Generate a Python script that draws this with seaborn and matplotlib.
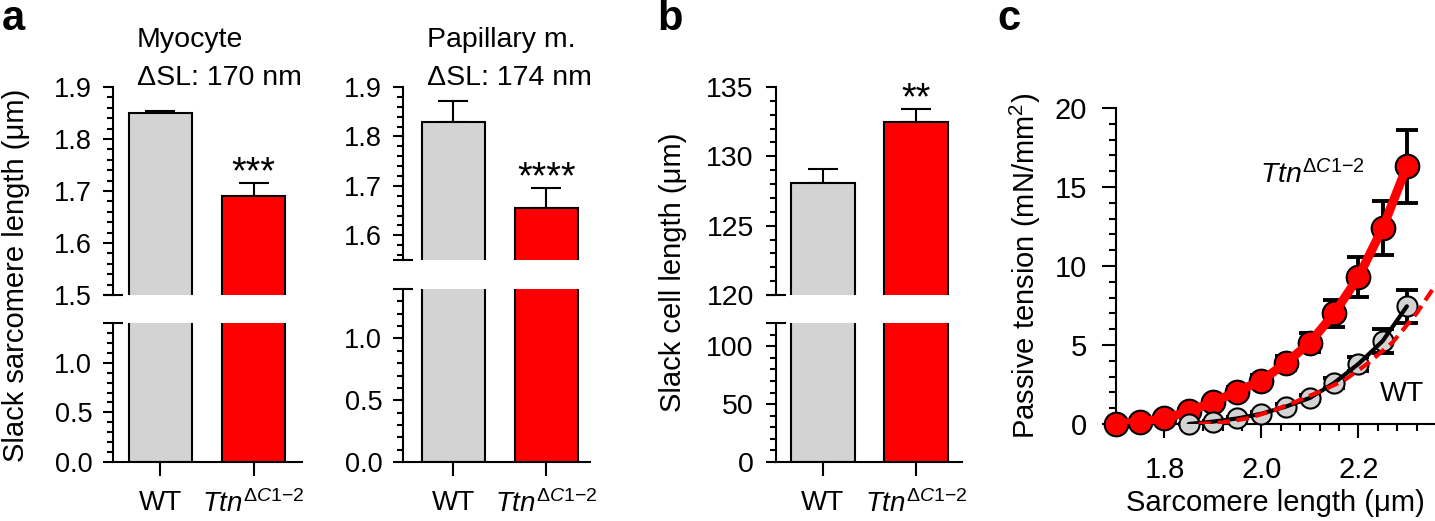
import numpy as np
import pandas as pd
import matplotlib
matplotlib.use("Agg")
import matplotlib.pyplot as plt
from matplotlib.ticker import MultipleLocator, FixedLocator
import seaborn as sns

# ---------------- data ----------------
groups = ["WT", "Ttn"]
group_labels = ["WT", r"$\mathit{Ttn}^{\mathit{\Delta C1{-}2}}$"]
bar_colors = ["#d3d3d3", "#ff0000"]

myocyte_sl = [1.85, 1.69]
myocyte_sem = [0.004, 0.025]
myocyte_sig = "***"

papillary_sl = [1.83, 1.655]
papillary_sem = [0.042, 0.040]
papillary_sig = "****"

cell_len = [128.1, 132.5]
cell_len_sem = [1.0, 0.9]
cell_sig = "**"

ttn_x = [1.70, 1.75, 1.80, 1.85, 1.90, 1.95, 2.00, 2.05, 2.10, 2.15, 2.20, 2.25, 2.30]
ttn_pt = [0.0, 0.1, 0.35, 0.8, 1.4, 2.05, 2.75, 3.85, 5.15, 7.0, 9.3, 12.4, 16.3]
ttn_pt_sem = [0.05, 0.05, 0.1, 0.15, 0.2, 0.3, 0.35, 0.45, 0.6, 0.85, 1.25, 1.7, 2.3]

wt_x = [1.85, 1.90, 1.95, 2.00, 2.05, 2.10, 2.15, 2.20, 2.25, 2.30]
wt_pt = [0.0, 0.15, 0.35, 0.65, 1.1, 1.65, 2.6, 3.8, 5.25, 7.45]
wt_pt_sem = [0.02, 0.05, 0.08, 0.1, 0.15, 0.2, 0.3, 0.45, 0.75, 1.05]

delta_sl = 0.17  # um shift of Ttn curve (dashed)

# ---------------- style ----------------
sns.set_theme(style="ticks")
plt.rcParams["font.family"] = ["Liberation Sans", "DejaVu Sans"]
plt.rcParams["mathtext.fontset"] = "custom"
plt.rcParams["mathtext.rm"] = "Liberation Sans"
plt.rcParams["mathtext.it"] = "Liberation Sans:italic"
plt.rcParams["mathtext.bf"] = "Liberation Sans:bold"
for k in ["text.color", "axes.labelcolor", "xtick.color", "ytick.color", "axes.edgecolor"]:
    plt.rcParams[k] = "black"

W, H = 1435, 521
fig = plt.figure(figsize=(W / 100, H / 100), dpi=100)

LW = 1.5
LABEL_FS = 21


def px_axes(l, r, t, b):
    return fig.add_axes([l / W, 1 - b / H, (r - l) / W, (b - t) / H])


def style_axis(ax, ypad, fs):
    ax.tick_params(axis="y", which="major", length=7, width=LW, labelsize=fs, pad=ypad, direction="out")
    ax.tick_params(axis="y", which="minor", length=4.5, width=LW, direction="out")
    ax.tick_params(axis="x", which="major", length=7, width=LW, labelsize=fs, pad=9, direction="out")
    for s in ["left", "bottom", "top", "right"]:
        ax.spines[s].set_linewidth(LW)
    ax.spines["right"].set_visible(False)


def cap(ax, yfrac, width_px):
    # small break-cap line at the end of a segmented axis
    f = 10.0 / width_px
    ax.plot([-f, f], [yfrac, yfrac], transform=ax.transAxes, color="black",
            lw=LW, clip_on=False, solid_capstyle="butt")


def broken_bar(lrx, up_tb, lo_tb, xlim, vals, sems, up_lim, lo_lim,
               up_major, up_minor, lo_major, lo_minor, fmt, sig, ypad, fs):
    l, r = lrx
    ax_up = px_axes(l, r, up_tb[0], up_tb[1])
    ax_lo = px_axes(l, r, lo_tb[0], lo_tb[1])
    df = pd.DataFrame({"g": groups, "v": vals})
    for ax in (ax_up, ax_lo):
        sns.barplot(data=df, x="g", y="v", hue="g", palette=bar_colors, width=0.68,
                    saturation=1, edgecolor="black", linewidth=LW, errorbar=None,
                    legend=False, ax=ax, zorder=2)
        ax.set_xlim(*xlim)
        ax.set_xlabel("")
        ax.set_ylabel("")
        style_axis(ax, ypad, fs)
    ax_up.errorbar(x=[0, 1], y=vals, yerr=[[0, 0], sems], fmt="none", ecolor="black",
                   elinewidth=LW, capsize=11, capthick=LW, zorder=1)
    ax_up.set_ylim(*up_lim)
    ax_lo.set_ylim(*lo_lim)
    ax_up.spines["bottom"].set_visible(False)
    ax_up.spines["top"].set_visible(False)
    ax_lo.spines["top"].set_visible(False)
    ax_up.tick_params(axis="x", which="both", bottom=False, labelbottom=False)
    ax_up.yaxis.set_major_locator(FixedLocator(up_major))
    ax_up.yaxis.set_minor_locator(FixedLocator(up_minor))
    ax_lo.yaxis.set_major_locator(FixedLocator(lo_major))
    ax_lo.yaxis.set_minor_locator(FixedLocator(lo_minor))
    ax_up.set_yticklabels([fmt.format(v) for v in up_major])
    ax_lo.set_yticklabels([fmt.format(v) for v in lo_major])
    ax_lo.set_xticks([0, 1])
    ax_lo.set_xticklabels(group_labels)
    ax_lo.tick_params(axis="x", length=10, pad=10, labelsize=20)
    cap(ax_up, 0.0, r - l)
    cap(ax_lo, 1.0, r - l)
    ax_up.text(1, vals[1] + sems[1], sig, ha="center", va="baseline", fontsize=27)
    return ax_up, ax_lo


# panel a - myocyte
a1u, a1l = broken_bar((113, 302), (87, 295), (323, 462), (-0.51, 1.52),
                      myocyte_sl, myocyte_sem, (1.5, 1.9), (0.0, 1.4),
                      [1.5, 1.6, 1.7, 1.8, 1.9], list(np.arange(1.52, 1.9, 0.02)),
                      [0.0, 0.5, 1.0], [0.1, 0.2, 0.3, 0.4, 0.6, 0.7, 0.8, 0.9, 1.1, 1.2, 1.3],
                      "{:.1f}", myocyte_sig, 8, 19.5)
# panel a - papillary
a2u, a2l = broken_bar((403, 590), (87, 260), (289, 462), (-0.54, 1.47),
                      papillary_sl, papillary_sem, (1.55, 1.9), (0.0, 1.4),
                      [1.6, 1.7, 1.8, 1.9], list(np.arange(1.56, 1.9, 0.02)),
                      [0.0, 0.5, 1.0], [0.1, 0.2, 0.3, 0.4, 0.6, 0.7, 0.8, 0.9, 1.1, 1.2, 1.3],
                      "{:.1f}", papillary_sig, 8, 19.5)
# panel b
bu, bl = broken_bar((776, 962), (87, 295), (323, 462), (-0.50, 1.49),
                    cell_len, cell_len_sem, (120, 135), (0, 120),
                    [120, 125, 130, 135], [v for v in range(121, 135) if v % 5],
                    [0, 50, 100], [10, 20, 30, 40, 60, 70, 80, 90, 110],
                    "{:d}", cell_sig, 9, 20.5)

# y labels
fig.text(16 / W, 1 - 275 / H, "Slack sarcomere length (μm)", rotation=90,
         ha="center", va="center", fontsize=LABEL_FS)
fig.text(673 / W, 1 - 272 / H, "Slack cell length (μm)", rotation=90,
         ha="center", va="center", fontsize=LABEL_FS)

# titles
fig.text(137 / W, 1 - 47 / H, "Myocyte", fontsize=20.5, ha="left", va="baseline")
fig.text(137 / W, 1 - 85 / H, "ΔSL: 170 nm", fontsize=20.5, ha="left", va="baseline")
fig.text(427 / W, 1 - 47 / H, "Papillary m.", fontsize=20.5, ha="left", va="baseline")
fig.text(427 / W, 1 - 85 / H, "ΔSL: 174 nm", fontsize=20.5, ha="left", va="baseline")

# panel letters
fig.text(2 / W, 1 - 30 / H, "a", fontsize=30, fontweight="bold", ha="left", va="baseline")
fig.text(657 / W, 1 - 30 / H, "b", fontsize=30, fontweight="bold", ha="left", va="baseline")
fig.text(997 / W, 1 - 30 / H, "c", fontsize=30, fontweight="bold", ha="left", va="baseline")

# ---------------- panel c ----------------
axc = px_axes(1116, 1435, 108, 424)
style_axis(axc, 11, 21)
axc.spines["top"].set_visible(False)
axc.tick_params(axis="x", which="major", length=10, pad=13)
axc.tick_params(axis="x", which="minor", length=5, width=LW, direction="out")
axc.tick_params(axis="y", which="major", length=10)
axc.tick_params(axis="y", which="minor", length=5)

axc.errorbar(ttn_x, ttn_pt, yerr=ttn_pt_sem, fmt="none", ecolor="black", elinewidth=2.8,
             capsize=8, capthick=2.8, zorder=1, clip_on=False)
axc.errorbar(wt_x, wt_pt, yerr=wt_pt_sem, fmt="none", ecolor="black", elinewidth=2.8,
             capsize=8, capthick=2.8, zorder=1, clip_on=False)

ttn_df = pd.DataFrame({"x": ttn_x, "y": ttn_pt})
wt_df = pd.DataFrame({"x": wt_x, "y": wt_pt})
shift_df = pd.DataFrame({"x": [v + delta_sl for v in ttn_x], "y": ttn_pt})

sns.scatterplot(data=ttn_df, x="x", y="y", s=290, color="#ff0000", edgecolor="black",
                linewidth=1.5, ax=axc, zorder=3, clip_on=False)
sns.lineplot(data=ttn_df, x="x", y="y", color="#ff0000", linewidth=6.5, ax=axc, zorder=4)
sns.scatterplot(data=wt_df, x="x", y="y", s=210, color="#d3d3d3", edgecolor="black",
                linewidth=1.5, ax=axc, zorder=5, clip_on=False)
sns.lineplot(data=wt_df, x="x", y="y", color="black", linewidth=3, ax=axc, zorder=6)
sns.lineplot(data=shift_df, x="x", y="y", color="#ff0000", linewidth=3, ax=axc,
             zorder=7, linestyle=(0, (3, 1.6)))

axc.set_xlim(1.7, 2.358)
axc.set_ylim(0, 20)
axc.xaxis.set_major_locator(FixedLocator([1.8, 2.0, 2.2]))
axc.xaxis.set_minor_locator(MultipleLocator(0.04))
axc.yaxis.set_major_locator(MultipleLocator(5))
axc.yaxis.set_minor_locator(MultipleLocator(1))
axc.set_xticklabels(["1.8", "2.0", "2.2"])
axc.set_xlabel("Sarcomere length (μm)", fontsize=LABEL_FS)
axc.set_ylabel("Passive tension (mN/mm$^2$)", fontsize=LABEL_FS)
axc.xaxis.set_label_coords(0.5, -0.205)
axc.yaxis.set_label_coords(-0.228, 0.5)
axc.text(1.997, 15.8, r"$\mathit{Ttn}^{\mathit{\Delta C1{-}2}}$", fontsize=20.5, ha="left", va="center")
axc.text(2.244, 1.9, "WT", fontsize=20.5, ha="left", va="center")

fig.savefig("out.png", dpi=100)
